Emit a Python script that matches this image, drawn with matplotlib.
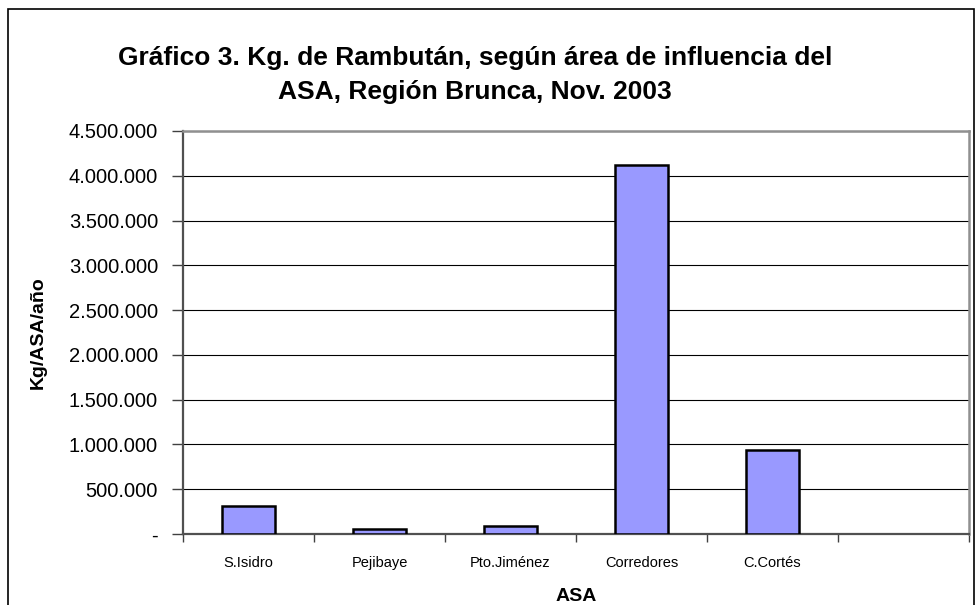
import numpy as np
import matplotlib
matplotlib.use('Agg')
import matplotlib.pyplot as plt
from matplotlib.ticker import FuncFormatter, MultipleLocator
from matplotlib.patches import Rectangle

# data
categories = ['S.Isidro', 'Pejibaye', 'Pto.Jiménez', 'Corredores', 'C.Cortés']
kg_per_year = [313000, 60000, 90000, 4117000, 938000]
n_slots = 6  # excel chart keeps one empty category at the end

title = 'Gráfico 3. Kg. de Rambután, según área de influencia del\nASA, Región Brunca, Nov. 2003'
y_label = 'Kg/ASA/año'
x_label = 'ASA'

plt.rcParams['font.family'] = ['Liberation Sans', 'DejaVu Sans']


def miles(v, pos):
    if v == 0:
        return '-'
    return '{:,.0f}'.format(v).replace(',', '.')


fig = plt.figure(figsize=(9.77, 6.05), dpi=100)
fig.patches.append(Rectangle((8 / 977, -0.1), 966 / 977, 1.1 - 9 / 605,
                             transform=fig.transFigure, fill=False,
                             edgecolor='black', linewidth=1.2))

ax = fig.add_axes([183 / 977, 1 - 534 / 605, 786 / 977, 403 / 605])

x = np.arange(len(categories))
ax.bar(x, kg_per_year, width=0.41, color='#9999FF', edgecolor='black',
       linewidth=1.8, zorder=3)

ax.set_xlim(-0.5, n_slots - 0.5)
ax.set_ylim(0, 4500000)
ax.yaxis.set_major_locator(MultipleLocator(500000))
ax.yaxis.set_major_formatter(FuncFormatter(miles))
ax.grid(axis='y', color='black', linewidth=0.8, zorder=0)

# ticks at category boundaries, labels at centers
ax.set_xticks(np.arange(n_slots + 1) - 0.5)
ax.set_xticklabels([])
ax.set_xticks(x, minor=True)
ax.set_xticklabels(categories, minor=True, fontsize=10.5)
ax.tick_params(axis='x', which='major', length=6, width=1, color='#404040')
ax.tick_params(axis='x', which='minor', length=0, pad=16)
ax.tick_params(axis='y', length=8, width=1, color='#404040', labelsize=14.5, pad=10)

for side in ['top', 'right']:
    ax.spines[side].set_color('#909090')
    ax.spines[side].set_linewidth(1.8)
for side in ['left', 'bottom']:
    ax.spines[side].set_color('#505050')
    ax.spines[side].set_linewidth(1.6)

ax.set_ylabel(y_label, fontsize=14, fontweight='bold', labelpad=16)
ax.set_xlabel(x_label, fontsize=14, fontweight='bold', labelpad=13)

fig.text(475 / 977, 1 - 75 / 605, title, ha='center', va='center',
         fontsize=19, fontweight='bold', linespacing=1.55)

plt.savefig('out.png', dpi=100)
